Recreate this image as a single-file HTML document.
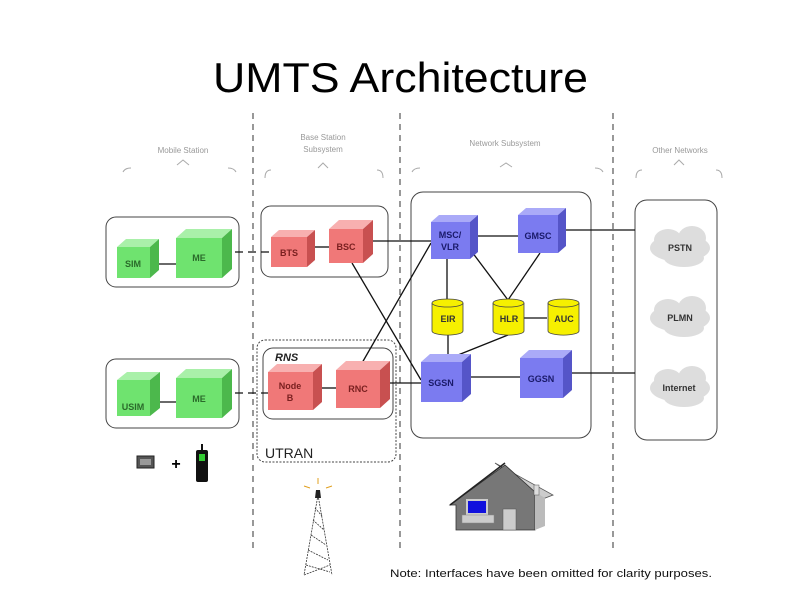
<!DOCTYPE html>
<html><head><style>body{margin:0;background:#fff}svg{display:block}</style></head><body>
<svg width="800" height="600" viewBox="0 0 800 600" xmlns="http://www.w3.org/2000/svg" font-family="Liberation Sans, sans-serif">
<rect width="800" height="600" fill="#fff"/>
<text x="213" y="92" font-size="42" textLength="375" lengthAdjust="spacingAndGlyphs" fill="#000">UMTS Architecture</text>
<g stroke="#555" stroke-width="1.2" stroke-dasharray="6,5">
<line x1="253" y1="113" x2="253" y2="550"/>
<line x1="400" y1="113" x2="400" y2="550"/>
<line x1="613" y1="113" x2="613" y2="550"/>
</g>
<g font-size="8" fill="#999" text-anchor="middle">
<text x="183" y="153">Mobile Station</text>
<text x="323" y="140">Base Station</text>
<text x="323" y="152">Subsystem</text>
<text x="505" y="146">Network Subsystem</text>
<text x="680" y="153">Other Networks</text>
</g>
<g fill="none" stroke="#aaa" stroke-width="1">
<path d="M123 172 q2-4 8-4 M236 172 q-2-4-8-4 M177 165 l6-5 l6 5"/>
<path d="M265 178 q0-8 6-8 M383 178 q0-8-6-8 M318 168 l5-5 l5 5"/>
<path d="M412 172 q2-4 8-4 M603 172 q-2-4-8-4 M500 167 l6-4 l6 4"/>
<path d="M636 178 q0-8 6-8 M722 178 q0-8-6-8 M674 165 l5-5 l5 5"/>
</g>
<g fill="none" stroke="#444" stroke-width="1">
<rect x="106" y="217" width="133" height="70" rx="10"/>
<rect x="261" y="206" width="127" height="71" rx="10"/>
<rect x="106" y="359" width="133" height="69" rx="10"/>
<rect x="263" y="348" width="130" height="71" rx="10"/>
<rect x="257" y="340" width="139" height="122" rx="8" stroke-dasharray="2,1.5"/>
<rect x="411" y="192" width="180" height="246" rx="12"/>
<rect x="635" y="200" width="82" height="240" rx="12"/>
</g>
<text x="275" y="361" font-size="11" font-weight="bold" font-style="italic" fill="#222">RNS</text>
<text x="265" y="458" font-size="14" fill="#222">UTRAN</text>
<g stroke="#111" stroke-width="1.3" fill="none">
<line x1="150" y1="264" x2="176" y2="264"/>
<line x1="222" y1="252" x2="271" y2="252" stroke-dasharray="8,5"/>
<line x1="315" y1="247" x2="329" y2="247"/>
<line x1="362" y1="241" x2="431" y2="241"/>
<line x1="150" y1="402" x2="176" y2="402"/>
<line x1="222" y1="393" x2="268" y2="393" stroke-dasharray="8,5"/>
<line x1="322" y1="388" x2="336" y2="388"/>
<line x1="380" y1="383" x2="421" y2="383"/>
<line x1="352" y1="263" x2="421" y2="380"/>
<line x1="362" y1="363" x2="431" y2="243"/>
<line x1="470" y1="236" x2="518" y2="236"/>
<line x1="558" y1="230" x2="635" y2="230"/>
<line x1="563" y1="373" x2="635" y2="373"/>
<line x1="462" y1="377" x2="520" y2="377"/>
<line x1="447" y1="259" x2="447" y2="302"/>
<line x1="472" y1="252" x2="508" y2="300"/>
<line x1="540" y1="253" x2="508" y2="300"/>
<line x1="524" y1="318" x2="547" y2="318"/>
<line x1="448" y1="335" x2="448" y2="359"/>
<line x1="508" y1="335" x2="448" y2="359"/>
</g>
<g font-size="9" font-weight="bold" text-anchor="middle">
<rect x="117" y="247" width="33" height="31" fill="#6fe36f"/><path d="M117 247 l9-8 h33 l-9 8z" fill="#a9f0a9"/><path d="M150 247 l9-8 v31 l-9 8z" fill="#4cb84c"/><text x="133" y="267" fill="#2a6a2a">SIM</text>
<rect x="176" y="238" width="46" height="40" fill="#6fe36f"/><path d="M176 238 l10-9 h46 l-10 9z" fill="#a9f0a9"/><path d="M222 238 l10-9 v40 l-10 9z" fill="#4cb84c"/><text x="199" y="261" fill="#2a6a2a">ME</text>
<rect x="117" y="380" width="33" height="36" fill="#6fe36f"/><path d="M117 380 l10-8 h33 l-10 8z" fill="#a9f0a9"/><path d="M150 380 l10-8 v36 l-10 8z" fill="#4cb84c"/><text x="133" y="410" fill="#2a6a2a">USIM</text>
<rect x="176" y="378" width="46" height="40" fill="#6fe36f"/><path d="M176 378 l10-9 h46 l-10 9z" fill="#a9f0a9"/><path d="M222 378 l10-9 v40 l-10 9z" fill="#4cb84c"/><text x="199" y="402" fill="#2a6a2a">ME</text>
<rect x="271" y="237" width="36" height="30" fill="#f07878"/><path d="M271 237 l8-7 h36 l-8 7z" fill="#f8b0b0"/><path d="M307 237 l8-7 v30 l-8 7z" fill="#c85050"/><text x="289" y="256" fill="#7a2020">BTS</text>
<rect x="329" y="229" width="34" height="34" fill="#f07878"/><path d="M329 229 l10-9 h34 l-10 9z" fill="#f8b0b0"/><path d="M363 229 l10-9 v34 l-10 9z" fill="#c85050"/><text x="346" y="250" fill="#7a2020">BSC</text>
<rect x="268" y="372" width="45" height="38" fill="#f07878"/><path d="M268 372 l9-8 h45 l-9 8z" fill="#f8b0b0"/><path d="M313 372 l9-8 v38 l-9 8z" fill="#c85050"/><text x="290" y="389" fill="#7a2020">Node</text><text x="290" y="401" fill="#7a2020">B</text>
<rect x="336" y="370" width="44" height="38" fill="#f07878"/><path d="M336 370 l10-9 h44 l-10 9z" fill="#f8b0b0"/><path d="M380 370 l10-9 v38 l-10 9z" fill="#c85050"/><text x="358" y="392" fill="#7a2020">RNC</text>
<rect x="431" y="222" width="39" height="37" fill="#7b7bf0"/><path d="M431 222 l8-7 h39 l-8 7z" fill="#aaaaf8"/><path d="M470 222 l8-7 v37 l-8 7z" fill="#5555c8"/><text x="450" y="238" fill="#1a1a6a">MSC/</text><text x="450" y="250" fill="#1a1a6a">VLR</text>
<rect x="518" y="215" width="40" height="38" fill="#7b7bf0"/><path d="M518 215 l8-7 h40 l-8 7z" fill="#aaaaf8"/><path d="M558 215 l8-7 v38 l-8 7z" fill="#5555c8"/><text x="538" y="239" fill="#1a1a6a">GMSC</text>
<rect x="421" y="362" width="41" height="40" fill="#7b7bf0"/><path d="M421 362 l9-8 h41 l-9 8z" fill="#aaaaf8"/><path d="M462 362 l9-8 v40 l-9 8z" fill="#5555c8"/><text x="441" y="386" fill="#1a1a6a">SGSN</text>
<rect x="520" y="358" width="43" height="40" fill="#7b7bf0"/><path d="M520 358 l9-8 h43 l-9 8z" fill="#aaaaf8"/><path d="M563 358 l9-8 v40 l-9 8z" fill="#5555c8"/><text x="541" y="382" fill="#1a1a6a">GGSN</text>
</g>
<g stroke="#444" stroke-width="0.8" fill="#f6f000" font-size="9" font-weight="bold" text-anchor="middle">
<path d="M432 303 v28 a15 4 0 0 0 31 0 v-28"/><ellipse cx="447.5" cy="303" rx="15.5" ry="4"/>
<path d="M493 303 v28 a15 4 0 0 0 31 0 v-28"/><ellipse cx="508.5" cy="303" rx="15.5" ry="4"/>
<path d="M548 303 v28 a15 4 0 0 0 31 0 v-28"/><ellipse cx="563.5" cy="303" rx="15.5" ry="4"/>
<g stroke="none" fill="#333"><text x="448" y="322">EIR</text><text x="509" y="322">HLR</text><text x="564" y="322">AUC</text></g>
</g>
<g fill="#ddd" font-size="9" font-weight="bold" text-anchor="middle">
<g><ellipse cx="680" cy="248" rx="30" ry="14"/><ellipse cx="668" cy="240" rx="14" ry="11"/><ellipse cx="692" cy="238" rx="14" ry="12"/><ellipse cx="684" cy="258" rx="20" ry="9"/><text x="680" y="251" fill="#333">PSTN</text></g>
<g><ellipse cx="680" cy="318" rx="30" ry="14"/><ellipse cx="668" cy="310" rx="14" ry="11"/><ellipse cx="692" cy="308" rx="14" ry="12"/><ellipse cx="684" cy="328" rx="20" ry="9"/><text x="680" y="321" fill="#333">PLMN</text></g>
<g><ellipse cx="680" cy="388" rx="30" ry="14"/><ellipse cx="668" cy="380" rx="14" ry="11"/><ellipse cx="692" cy="378" rx="14" ry="12"/><ellipse cx="684" cy="398" rx="20" ry="9"/><text x="679" y="391" fill="#333">Internet</text></g>
</g>
<rect x="137" y="456" width="17" height="12" fill="#555" stroke="#222"/><rect x="140" y="459" width="11" height="6" fill="#999"/>
<text x="176" y="469" font-size="16" font-weight="bold" text-anchor="middle">+</text>
<rect x="196" y="450" width="12" height="32" rx="2" fill="#111"/><rect x="199" y="454" width="6" height="7" fill="#3c3"/><rect x="201" y="444" width="2" height="7" fill="#111"/>
<g stroke="#333" stroke-width="0.8" fill="none" stroke-dasharray="2,1">
<path d="M318 495 L304 575 M318 495 L332 575 M306 565 L330 572 M308 550 L328 560 M311 535 L326 545 M313 520 L324 530 M315 508 L322 516 M304 575 L330 565"/>
</g>
<path d="M316 490 h4 l1 8 h-6z" fill="#222"/>
<g stroke="#e0a020" stroke-width="1"><path d="M310 488 l-6 -2 M326 488 l6 -2 M318 484 v-6"/></g>
<path d="M495 463 L553 495 L540 500 L505 470z" fill="#ccc" stroke="#555" stroke-width="0.8"/>
<path d="M450 505 L505 465 L535 492 V530 H456 V505z" fill="#777" stroke="#333" stroke-width="0.8"/>
<path d="M535 492 L545 498 V526 L535 530z" fill="#bbb"/>
<path d="M450 505 L505 463" stroke="#222" stroke-width="1.5"/>
<rect x="503" y="509" width="13" height="21" fill="#ccc" stroke="#555" stroke-width="0.5"/>
<rect x="466" y="499" width="22" height="16" fill="#ccc"/><rect x="468" y="501" width="18" height="12" fill="#11d"/>
<rect x="462" y="515" width="32" height="8" fill="#ccc" stroke="#888" stroke-width="0.5"/>
<rect x="534" y="485" width="5" height="10" fill="#ddd" stroke="#555" stroke-width="0.5"/>
<text x="390" y="577" font-size="11" fill="#111" textLength="322" lengthAdjust="spacingAndGlyphs">Note: Interfaces have been omitted for clarity purposes.</text>
</svg>
</body></html>
